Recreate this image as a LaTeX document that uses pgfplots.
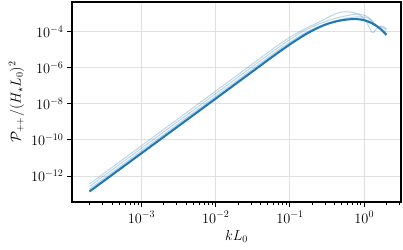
\documentclass[border=0pt]{standalone}
\usepackage{pgfplots}
\pgfplotsset{compat=1.18}
\definecolor{cblue}{HTML}{1F77B4}
\begin{document}
\begin{tikzpicture}
\begin{axis}[
  at={(0,0)}, anchor=south west,
  width=329pt, height=200pt, scale only axis,
  xmode=log, ymode=log,
  xmin=1.16e-4, xmax=3.13, ymin=3.63e-14, ymax=4.47e-3,
  xtick={1e-3,1e-2,1e-1,1},
  minor xtick={2e-4,3e-4,4e-4,5e-4,6e-4,7e-4,8e-4,9e-4,
    2e-3,3e-3,4e-3,5e-3,6e-3,7e-3,8e-3,9e-3,
    2e-2,3e-2,4e-2,5e-2,6e-2,7e-2,8e-2,9e-2,
    0.2,0.3,0.4,0.5,0.6,0.7,0.8,0.9,2,3},
  ytick={1e-12,1e-10,1e-8,1e-6,1e-4},
  minor ytick={},
  xtick pos=bottom, ytick pos=left,
  tick align=outside,
  major tick length=5pt, minor tick length=3pt,
  tick style={black, line width=1pt},
  minor tick style={black, line width=0.8pt},
  grid=major,
  major grid style={black!12, line width=1pt},
  axis line style={black, line width=1.4pt},
  tick label style={font=\fontsize{14}{16}\selectfont},
  label style={font=\fontsize{14}{16}\selectfont},
  xticklabel style={yshift=-1pt},
  xlabel={$kL_0$}, ylabel={$\mathcal{P}_{++}/(H_\star L_0)^2$},
  clip=true,
]
% light realisations
\addplot[cblue, opacity=0.3, line width=1pt, smooth] coordinates {
(1.995e-4,3.631e-13) (1e-3,4.786e-11) (1e-2,5.129e-8) (3.162e-2,1.698e-6)
(6.310e-2,1.380e-5) (0.1,5.012e-5) (0.1585,1.445e-4)
(0.2512,3.548e-4) (0.3548,7.586e-4) (0.4467,1.122e-3) (0.5370,1.288e-3)
(0.7079,1.175e-3) (0.8913,7.943e-4) (1.072,3.548e-4) (1.288,8.913e-5)
(1.445,1.413e-4) (1.622,1.905e-4) (1.995,1.318e-4)};
\addplot[cblue, opacity=0.3, line width=1pt, smooth] coordinates {
(1.995e-4,2.630e-13) (1e-3,3.467e-11) (1e-2,3.715e-8) (3.162e-2,1.230e-6)
(6.310e-2,1.0e-5) (0.1,3.715e-5) (0.1585,1.175e-4)
(0.2512,2.818e-4) (0.3981,5.370e-4) (0.6310,8.318e-4) (0.8511,9.550e-4)
(1.122,6.607e-4) (1.413,2.630e-4) (1.660,1.514e-4) (1.995,1.0e-4)};
\addplot[cblue, opacity=0.3, line width=1pt, smooth] coordinates {
(1.995e-4,1.905e-13) (1e-3,2.512e-11) (1e-2,2.692e-8) (3.162e-2,8.913e-7)
(6.310e-2,7.244e-6) (0.1,2.692e-5) (0.1585,8.511e-5)
(0.2512,2.089e-4) (0.3981,3.981e-4) (0.6310,6.026e-4) (0.8913,6.761e-4)
(1.122,5.623e-4) (1.349,2.818e-4) (1.549,1.778e-4) (1.738,2.089e-4)
(1.995,1.413e-4)};
\addplot[cblue, opacity=0.3, line width=1pt, smooth] coordinates {
(1.995e-4,1.585e-13) (1e-3,2.089e-11) (1e-2,2.239e-8) (3.162e-2,7.413e-7)
(6.310e-2,6.026e-6) (0.1,2.291e-5) (0.1585,7.586e-5)
(0.2512,1.950e-4) (0.3981,3.802e-4) (0.6310,5.370e-4) (0.8913,5.370e-4)
(1.259,3.467e-4) (1.585,1.820e-4) (1.995,7.586e-5)};
% mean curve
\addplot[cblue, line width=2pt, smooth] coordinates {
(1.995e-4,1.380e-13) (1e-3,1.820e-11) (1e-2,1.950e-8) (3.162e-2,6.457e-7)
(6.310e-2,5.248e-6) (0.1,1.995e-5) (0.1259,3.715e-5)
(0.1585,6.761e-5) (0.1995,1.148e-4) (0.2512,1.820e-4) (0.3162,2.692e-4)
(0.3981,3.548e-4) (0.5012,4.365e-4) (0.6310,4.898e-4) (0.7943,5.012e-4)
(1.0,4.365e-4) (1.259,3.020e-4) (1.585,1.660e-4) (1.995,6.761e-5)};
\end{axis}
\pgfresetboundingbox
\path[use as bounding box] (-72pt,-47pt) rectangle (331pt,202pt);
\end{tikzpicture}
\end{document}
